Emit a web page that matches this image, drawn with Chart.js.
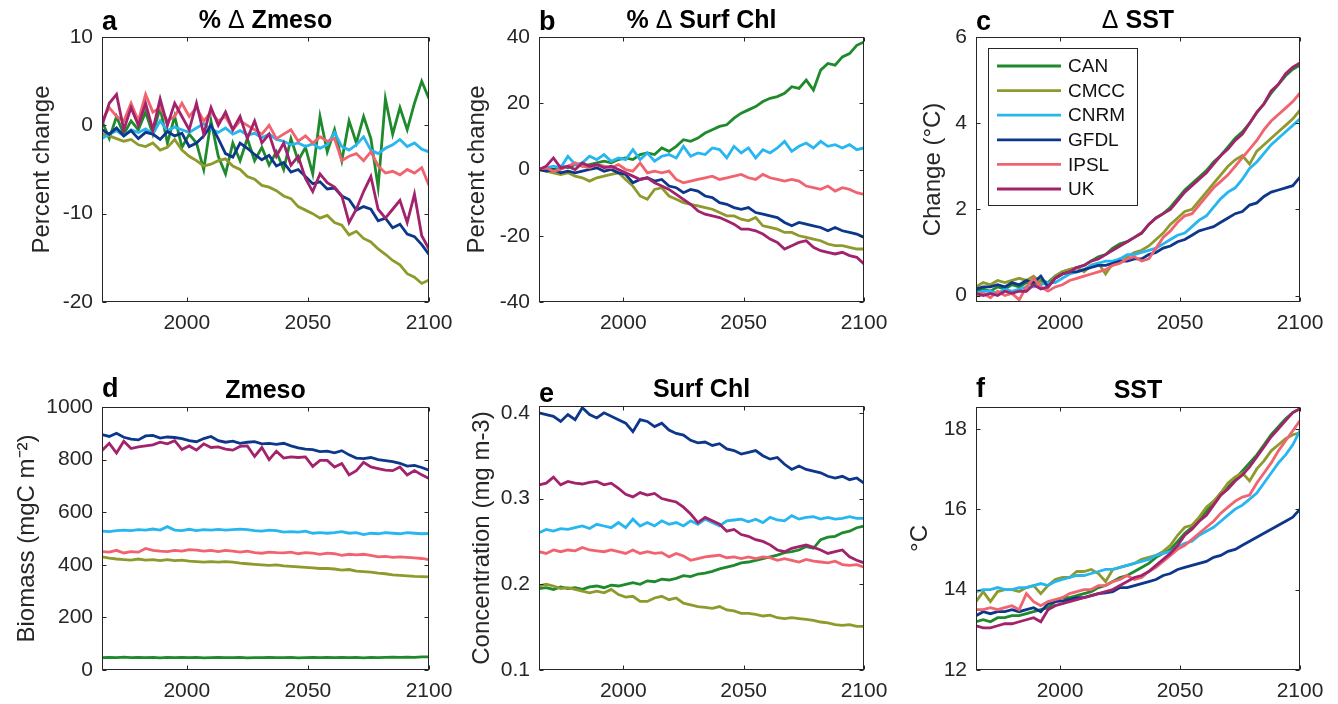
<!DOCTYPE html>
<html>
<head>
<meta charset="utf-8">
<script src="https://cdn.jsdelivr.net/npm/chart.js@4.4.1/dist/chart.umd.min.js"></script>
<style>
  body { margin: 0; background: #fff; }
  #lienzo { position: relative; width: 1338px; height: 704px; background: #fff; overflow: hidden; }
  #lienzo canvas { position: absolute; }
</style>
</head>
<body>
<div id="lienzo"></div>
<script>
//Años (cada 3 años) y modelos
const years = [1965, 1968, 1971, 1974, 1977, 1980, 1983, 1986, 1989, 1992, 1995, 1998, 2001, 2004, 2007, 2010, 2013, 2016, 2019, 2022, 2025, 2028, 2031, 2034, 2037, 2040, 2043, 2046, 2049, 2052, 2055, 2058, 2061, 2064, 2067, 2070, 2073, 2076, 2079, 2082, 2085, 2088, 2091, 2094, 2097, 2100];
const models = ['CAN', 'CMCC', 'CNRM', 'GFDL', 'IPSL', 'UK'];
const xTicks = [2000, 2050, 2100];

//a: % cambio Zmeso (orden: CAN, CMCC, CNRM, GFDL, IPSL, UK)
const pctZmeso = [
  [0.5, -1.5, 1, -1, 0.5, -0.5, 1.5, -1, 2, -2, 1, -2.5, -1, -2, -5, 0.5, -3.5, -5.5, -2, -4, -1.5, -4, -2.5, -4.5, -3, -5, -1.5, -4, -2.5, -5.5, 1, -3, -0.5, -4, 0.5, -2, 1, -1.5, -7, 3, -1, 2, -0.5, 2.5, 5, 3],
  [-1, -1.2, -1.5, -1.8, -1.6, -2.2, -2.4, -2.0, -2.8, -2.5, -1.6, -2.8, -3.5, -4.0, -4.6, -4.4, -4.0, -3.8, -4.6, -5.0, -5.8, -6.1, -6.8, -7.0, -7.4, -8.0, -8.3, -9.2, -9.6, -10.0, -10.5, -10.2, -11.0, -11.3, -12.4, -12.0, -12.8, -13.2, -14.0, -14.6, -15.3, -15.8, -16.8, -17.2, -17.9, -17.5],
  [-1.5, -1.0, -0.6, -1.2, -0.5, -0.8, -0.4, -1.0, 0.5, -0.6, -0.2, -0.5, -0.8, -0.3, 0.2, -0.4, -0.8, -0.3, -1.0, -0.6, -1.1, -0.9, -1.4, -1.0, -1.6, -1.8, -2.2, -2.0, -2.4, -2.1, -2.6, -2.2, -0.8, -2.4, -2.8, -2.2, -1.3, -2.8, -3.2, -2.6, -2.2, -1.6, -2.4, -2.0, -2.7, -3.0],
  [-0.5, -1.0, -0.3, -1.2, -0.6, -1.5, -0.8, -1.0, -1.6, -0.7, -1.2, -0.9, -2.4, -2.0, -1.2, 0.0, -1.5, -3.2, -3.6, -2.0, -2.6, -3.3, -3.9, -3.4, -4.6, -4.2, -5.3, -5.0, -5.8, -6.6, -6.4, -7.2, -7.1, -8.0, -8.4, -9.6, -9.2, -9.5, -10.8, -10.5, -11.6, -11.2, -12.3, -12.6, -13.5, -14.6],
  [0.5, 2.0, 1.0, 0.5, 2.5, 0.5, 3.5, 1.5, 2.0, 0.5, 1.0, 2.5, 1.0, 2.0, 0.5, 1.5, 0.5, 1.0, -0.5, 0.5, 0.0, -0.5, -1.0, 0.0, -1.5, -1.0, -0.5, -1.8, -1.2, -2.0, -1.3, -1.8, -1.5, -4.0, -3.5, -3.2, -4.0, -3.0, -4.6, -5.4, -5.2, -5.6, -5.0, -5.4, -4.8, -6.8],
  [0, 2.5, 3.5, -0.5, 2.0, 0.0, 2.5, -0.5, 3.0, 0.0, 2.5, 1.0, -0.5, 2.5, -1.0, 2.0, 0.0, 1.5, -0.5, 1.0, -1.5, 0.5, -2.0, -1.0, -3.5, -2.0, -4.5, -3.5, -6.0, -7.5, -5.5, -6.5, -7.0, -8.0, -11.0, -9.5, -7.5, -5.8, -9.5, -10.5, -9.5, -8.5, -11.0, -7.8, -12.5, -14.0]
];

//b: % cambio clorofila superficial
const pctChl = [
  [0, 0.5, 0, 1, 0.5, 1.5, 1, 1.5, 2, 2.5, 2, 3, 3.5, 3, 4.5, 5, 4.5, 6.5, 5.5, 7, 9, 8.5, 9.5, 11, 12, 13, 13.5, 15.5, 17, 18, 19, 20.5, 21.5, 22, 23, 25, 24.5, 27, 24, 30, 32, 31.5, 34, 35, 37.5, 38.5],
  [0, -0.5, -1, -1.5, -1, -2, -2.5, -3.5, -2.5, -2, -1.5, -1, -3, -5, -8, -9, -6, -5.5, -8, -9, -10, -10.5, -11, -11.5, -12, -13, -14, -14, -15, -15.5, -14.5, -17, -17.5, -18, -19, -19, -20, -20.5, -21, -21.5, -22.5, -23, -23, -23.5, -24, -24],
  [0, 0.5, 1, 0.5, 4, 1.5, 2, 4, 3, 4.5, 2.5, 3.5, 3, 6, 3, 5, 2.5, 4, 4.5, 3.5, 7, 4, 5, 4.5, 6.5, 6, 3.5, 7, 5, 6.5, 3.5, 6, 5, 6.5, 8.5, 5.5, 7, 8, 6.5, 8.5, 7, 7.5, 6.5, 7.5, 6, 6.5],
  [0, -0.5, 0, -1, -0.5, -1, -0.5, 0, 0.5, -0.5, 0, -1, -1.5, -4, -3, -2.5, -3.5, -3, -5, -5.5, -7, -6, -6.5, -8, -8.5, -10, -10.5, -11.5, -12, -11.5, -13, -13.5, -14, -14.5, -16, -17, -16, -16.5, -17, -17.5, -18.5, -17.5, -18.5, -19, -19.5, -20.5],
  [0, 0.5, -0.5, 0, 1, 2, 1, 0.5, 1.5, 1, 0.5, 1.5, 0, -0.5, 2, -1, -0.5, -1, -0.5, -3, -4, -3.5, -3, -2.5, -2, -3, -2.5, -2, -1.5, -2.5, -3, -1.5, -2.5, -3, -3.5, -3, -3.5, -5, -5.5, -6, -5, -6.5, -5.5, -6, -7, -7.5],
  [0, 1, 3.5, 0.5, 1, 0, 2, 1, 1.5, 0.5, 1, 0, -1, -2, -3, -2.5, -4, -5, -6, -7.5, -9, -10.5, -12.5, -13.5, -14, -14.5, -15.5, -16.5, -18, -18, -18.5, -19.5, -21, -22, -24, -23, -22, -21.5, -23.5, -24.5, -25, -25.5, -25, -26, -26.5, -28.5]
];

//c: cambio de SST (ºC)
const dSST = [
  [0.1, 0.15, 0.1, 0.2, 0.15, 0.25, 0.2, 0.3, 0.25, 0.35, 0.3, 0.45, 0.55, 0.6, 0.65, 0.7, 0.8, 0.9, 0.95, 1.1, 1.2, 1.25, 1.35, 1.45, 1.65, 1.8, 1.9, 2.05, 2.25, 2.45, 2.6, 2.75, 2.9, 3.1, 3.25, 3.45, 3.65, 3.8, 4.0, 4.25, 4.45, 4.7, 4.9, 5.1, 5.25, 5.35],
  [0.2, 0.3, 0.25, 0.35, 0.3, 0.35, 0.4, 0.35, 0.45, 0.3, 0.25, 0.45, 0.55, 0.6, 0.65, 0.55, 0.7, 0.75, 0.5, 0.75, 0.85, 0.9, 1.0, 1.05, 1.15, 1.3, 1.45, 1.65, 1.8, 1.95, 2.0, 2.2, 2.4, 2.6, 2.8, 3.0, 3.15, 3.25, 3.05, 3.35, 3.5, 3.65, 3.8, 3.95, 4.1, 4.3],
  [0.05, 0.1, 0.1, 0.05, 0.15, 0.1, 0.15, 0.2, 0.2, 0.25, 0.3, 0.3, 0.4, 0.5, 0.55, 0.6, 0.7, 0.75, 0.8, 0.8, 0.85, 0.95, 0.95, 1.0, 1.05, 1.1, 1.2, 1.3, 1.4, 1.45, 1.6, 1.75, 1.85, 2.05, 2.25, 2.4, 2.5, 2.7, 2.95, 3.1, 3.3, 3.5, 3.65, 3.8, 3.95, 4.1],
  [0.15, 0.2, 0.2, 0.25, 0.2, 0.3, 0.25, 0.35, 0.3, 0.45, 0.2, 0.4, 0.5, 0.55, 0.55, 0.6, 0.65, 0.7, 0.7, 0.75, 0.8, 0.8, 0.85, 0.85, 0.95, 1.0, 1.1, 1.15, 1.25, 1.3, 1.4, 1.5, 1.55, 1.6, 1.7, 1.8, 1.9, 1.95, 2.1, 2.15, 2.3, 2.4, 2.45, 2.5, 2.55, 2.75],
  [0.0, 0.05, -0.05, 0.1, 0.0, 0.05, -0.1, 0.2, 0.4, 0.2, 0.1, 0.2, 0.25, 0.35, 0.4, 0.45, 0.5, 0.55, 0.6, 0.7, 0.75, 0.85, 0.9, 0.8, 0.85, 1.1, 1.35, 1.5, 1.7, 1.85, 1.9, 2.1, 2.3, 2.5, 2.65, 2.8, 3.0, 3.2, 3.4, 3.6, 3.85, 4.05, 4.2, 4.35, 4.5, 4.7],
  [0.05, 0.0, 0.05, 0.0, 0.1, 0.05, 0.1, 0.1, 0.25, 0.15, 0.2, 0.4, 0.5, 0.55, 0.65, 0.7, 0.8, 0.85, 0.95, 1.05, 1.15, 1.25, 1.35, 1.45, 1.65, 1.8, 1.9, 2.0, 2.2, 2.4, 2.55, 2.7, 2.85, 3.05, 3.25, 3.4, 3.6, 3.75, 4.0, 4.25, 4.45, 4.75, 4.9, 5.15, 5.3, 5.4]
];

//d: biomasa Zmeso (mgC m-2)
const zmeso = [
  [47, 48, 47, 49, 47, 48, 47, 48, 46, 48, 47, 48, 47, 48, 46, 47, 48, 47, 47, 48, 46, 47, 47, 48, 47, 47, 48, 46, 47, 48, 47, 48, 47, 48, 47, 48, 46, 48, 47, 48, 49, 48, 49, 48, 50, 50],
  [430, 425, 422, 420, 418, 422, 418, 420, 416, 420, 416, 418, 414, 412, 410, 412, 410, 412, 410, 406, 404, 402, 400, 398, 400, 396, 394, 392, 390, 388, 386, 386, 384, 380, 382, 376, 374, 372, 368, 366, 362, 360, 358, 356, 355, 354],
  [528, 526, 530, 532, 530, 534, 532, 536, 532, 545, 532, 530, 535, 530, 534, 532, 535, 532, 534, 536, 534, 530, 528, 532, 530, 524, 526, 524, 528, 520, 522, 520, 522, 526, 520, 522, 515, 520, 518, 522, 520, 518, 522, 520, 518, 519],
  [895, 888, 900, 885, 878, 875, 890, 892, 882, 886, 884, 880, 872, 868, 880, 888, 872, 866, 870, 862, 866, 868, 860, 862, 858, 862, 852, 845, 840, 838, 830, 832, 826, 834, 818, 806, 804, 808, 800, 796, 792, 786, 775, 778, 770, 760],
  [450, 448, 455, 445, 450, 448, 462, 455, 452, 450, 455, 452, 458, 456, 452, 455, 450, 455, 452, 448, 452, 446, 444, 448, 446, 445, 448, 442, 446, 444, 440, 444, 442, 436, 440, 438, 440, 436, 430, 432, 428, 430, 428, 426, 424, 420],
  [835, 862, 825, 870, 842, 848, 852, 856, 866, 860, 872, 838, 852, 836, 860, 846, 848, 840, 836, 850, 852, 812, 846, 800, 832, 806, 810, 808, 810, 774, 797, 797, 772, 785, 742, 758, 790, 772, 766, 760, 758, 772, 742, 758, 742, 728]
];

//e: clorofila superficial (mg m-3)
const chl = [
  [0.195, 0.196, 0.194, 0.197, 0.195, 0.196, 0.194, 0.197, 0.198, 0.196, 0.199, 0.198, 0.2, 0.202, 0.2, 0.204, 0.203, 0.206, 0.205, 0.207, 0.21, 0.209, 0.212, 0.213, 0.215, 0.218, 0.22, 0.222, 0.225, 0.226, 0.228, 0.23, 0.232, 0.234, 0.237, 0.238, 0.24, 0.244, 0.242, 0.252, 0.255, 0.256, 0.26, 0.262, 0.266, 0.268],
  [0.198, 0.2, 0.198, 0.195, 0.196, 0.194, 0.192, 0.19, 0.192, 0.19, 0.194, 0.188, 0.185, 0.186, 0.18, 0.18, 0.184, 0.186, 0.182, 0.184, 0.178, 0.176, 0.174, 0.173, 0.172, 0.174, 0.17, 0.169, 0.166, 0.166, 0.165, 0.163, 0.164, 0.161, 0.16, 0.161, 0.16, 0.159, 0.158, 0.156, 0.155, 0.153, 0.152, 0.153, 0.151, 0.151],
  [0.26, 0.264, 0.262, 0.265, 0.264, 0.266, 0.268, 0.265, 0.27, 0.268, 0.266, 0.272, 0.266, 0.276, 0.268, 0.272, 0.268, 0.274, 0.27, 0.272, 0.268, 0.274, 0.27, 0.276, 0.272, 0.268, 0.274, 0.275, 0.276, 0.273, 0.276, 0.272, 0.278, 0.275, 0.274, 0.28, 0.276, 0.278, 0.279, 0.276, 0.278, 0.276, 0.277, 0.279, 0.277, 0.277],
  [0.4, 0.398, 0.396, 0.39, 0.398, 0.392, 0.406, 0.398, 0.394, 0.4, 0.396, 0.392, 0.388, 0.378, 0.392, 0.39, 0.384, 0.388, 0.38, 0.376, 0.374, 0.368, 0.365, 0.366, 0.362, 0.364, 0.358, 0.356, 0.352, 0.354, 0.356, 0.35, 0.346, 0.348, 0.34, 0.334, 0.338, 0.334, 0.332, 0.33, 0.326, 0.324, 0.326, 0.322, 0.324, 0.318],
  [0.238, 0.236, 0.24, 0.238, 0.24, 0.239, 0.243, 0.24, 0.239, 0.238, 0.24, 0.238, 0.236, 0.24, 0.236, 0.238, 0.236, 0.237, 0.232, 0.236, 0.233, 0.228, 0.23, 0.232, 0.233, 0.234, 0.231, 0.232, 0.23, 0.232, 0.23, 0.232, 0.231, 0.228, 0.23, 0.228, 0.226, 0.229, 0.227, 0.226, 0.225, 0.227, 0.223, 0.222, 0.223, 0.22],
  [0.316, 0.318, 0.325, 0.316, 0.32, 0.318, 0.317, 0.319, 0.32, 0.316, 0.318, 0.312, 0.305, 0.302, 0.307, 0.304, 0.306, 0.3, 0.298, 0.296, 0.29, 0.282, 0.272, 0.278, 0.274, 0.27, 0.262, 0.264, 0.258, 0.256, 0.252, 0.25, 0.246, 0.24, 0.238, 0.242, 0.244, 0.246, 0.243, 0.24, 0.236, 0.238, 0.24, 0.232, 0.228, 0.225]
];

//f: SST (ºC)
const sst = [
  [13.2, 13.25, 13.2, 13.3, 13.3, 13.35, 13.35, 13.4, 13.45, 13.5, 13.55, 13.7, 13.8, 13.8, 13.85, 13.9, 13.95, 14.05, 14.1, 14.2, 14.3, 14.35, 14.45, 14.55, 14.65, 14.8, 14.9, 15.0, 15.2, 15.4, 15.55, 15.75, 15.95, 16.15, 16.4, 16.55, 16.75, 16.95, 17.15, 17.35, 17.6, 17.85, 18.05, 18.25, 18.4, 18.5],
  [13.7, 13.95, 13.7, 13.95, 14.0, 14.0, 13.95, 14.05, 14.1, 13.9, 14.1, 14.25, 14.3, 14.3, 14.45, 14.45, 14.5, 14.4, 14.2, 14.5, 14.55, 14.6, 14.65, 14.75, 14.8, 14.85, 14.95, 15.1, 15.35, 15.55, 15.6, 15.8, 16.05, 16.2, 16.4, 16.65, 16.8, 16.9, 16.7, 17.0, 17.2, 17.45, 17.6, 17.75, 17.85, 17.9],
  [13.95, 14.0, 14.0, 14.05, 14.0, 14.0, 14.05, 14.05, 14.1, 14.15, 14.1, 14.2, 14.25, 14.3, 14.35, 14.35, 14.4, 14.45, 14.5, 14.5, 14.55, 14.6, 14.65, 14.7, 14.75, 14.85, 14.9, 14.95, 15.05, 15.15, 15.2, 15.35, 15.45, 15.55, 15.7, 15.85, 16.0, 16.1, 16.25, 16.4, 16.65, 16.9, 17.15, 17.35, 17.6, 17.95],
  [13.35, 13.45, 13.4, 13.45, 13.45, 13.5, 13.45, 13.5, 13.55, 13.45, 13.65, 13.7, 13.72, 13.75, 13.8, 13.8, 13.85, 13.9, 13.92, 13.95, 14.05, 14.05, 14.1, 14.15, 14.2, 14.25, 14.35, 14.4, 14.5, 14.55, 14.6, 14.65, 14.7, 14.8, 14.85, 14.95, 15.0, 15.1, 15.2, 15.3, 15.4, 15.5, 15.6, 15.7, 15.8, 16.0],
  [13.5, 13.5, 13.55, 13.5, 13.55, 13.6, 13.5, 13.9, 13.7, 13.6, 13.7, 13.75, 13.8, 13.9, 13.95, 14.0, 14.0, 14.1, 14.1, 14.2, 14.25, 14.35, 14.25, 14.3, 14.45, 14.55, 14.7, 14.85, 15.0, 15.1, 15.25, 15.4, 15.55, 15.7, 15.9, 16.05, 16.2, 16.3, 16.35, 16.65, 16.9, 17.15, 17.45, 17.7, 17.95, 18.2],
  [13.1, 13.05, 13.05, 13.1, 13.15, 13.15, 13.2, 13.25, 13.3, 13.2, 13.5, 13.6, 13.65, 13.7, 13.75, 13.8, 13.85, 13.9, 13.95, 14.0, 14.1, 14.2, 14.3, 14.35, 14.45, 14.6, 14.75, 14.9, 15.1, 15.35, 15.5, 15.7, 15.85, 16.1, 16.35, 16.5, 16.7, 16.85, 17.05, 17.3, 17.55, 17.8, 18.0, 18.2, 18.4, 18.5]
];

//Marcas y rangos del eje Y de cada panel
const ticksA = [-20, -10, 0, 10], rangoA = [-20, 10];
const ticksB = [-40, -20, 0, 20, 40], rangoB = [-40, 40];
const ticksC = [0, 2, 4, 6], rangoC = [-0.15, 6];
const ticksD = [0, 200, 400, 600, 800, 1000], rangoD = [0, 1000];
const ticksE = [0.1, 0.2, 0.3, 0.4], rangoE = [0.1, 0.408];
const ticksF = [12, 14, 16, 18], rangoF = [12, 18.54];

//Estilos
const modelColors = ['#1e8a2c', '#8f9a2c', '#27b6ef', '#0d378a', '#f1636f', '#a2226c'];
const ejes = '#262626';
const fuente = '"Liberation Sans", Arial, Helvetica, sans-serif';
Chart.defaults.font.family = fuente;

//Cada panel: datos + caja del área de trazado (px de la página)
const paneles = [
  { letra: 'a', titulo: '% Δ Zmeso', ejeY: 'Percent change', datos: pctZmeso, ticksY: ticksA, rango: rangoA, L: 102, T: 37, R: 429, B: 302, offY: 60, letraDy: 7 },
  { letra: 'b', titulo: '% Δ Surf Chl', ejeY: 'Percent change', datos: pctChl, ticksY: ticksB, rango: rangoB, L: 539, T: 37, R: 864, B: 302, offY: 62, letraDy: 7 },
  { letra: 'c', titulo: 'Δ SST', ejeY: 'Change (°C)', datos: dSST, ticksY: ticksC, rango: rangoC, L: 976, T: 37, R: 1300, B: 302, offY: 43, letraDy: 7, leyenda: true },
  { letra: 'd', titulo: 'Zmeso', ejeY: 'Biomass (mgC m⁻²)', datos: zmeso, ticksY: ticksD, rango: rangoD, L: 102, T: 407, R: 429, B: 670, offY: 75, letraDy: 10 },
  { letra: 'e', titulo: 'Surf Chl', ejeY: 'Concentration (mg m-3)', datos: chl, ticksY: ticksE, rango: rangoE, L: 539, T: 406, R: 864, B: 670, offY: 57, letraDy: 4 },
  { letra: 'f', titulo: 'SST', ejeY: '°C', datos: sst, ticksY: ticksF, rango: rangoF, L: 976, T: 407, R: 1300, B: 670, offY: 56, letraDy: 10 }
];

//Dibuja el marco con marcas hacia dentro, títulos y leyenda
function marcoPara(p) {
  return {
    id: 'marco',
    afterDraw(chart) {
      const { ctx, chartArea: a, scales: { x, y } } = chart;
      ctx.save();
      const l = Math.round(a.left) + 0.5, r = Math.round(a.right) - 0.5;
      const t = Math.round(a.top) + 0.5, b = Math.round(a.bottom) - 0.5;
      ctx.strokeStyle = ejes;
      ctx.lineWidth = 1;
      ctx.strokeRect(l, t, r - l, b - t);
      ctx.beginPath();
      xTicks.forEach(v => {
        const px = Math.round(x.getPixelForValue(v)) + 0.5;
        ctx.moveTo(px, b); ctx.lineTo(px, b - 4);
        ctx.moveTo(px, t); ctx.lineTo(px, t + 4);
      });
      p.ticksY.forEach(v => {
        const py = Math.round(y.getPixelForValue(v)) + 0.5;
        ctx.moveTo(l, py); ctx.lineTo(l + 4, py);
        ctx.moveTo(r, py); ctx.lineTo(r - 4, py);
      });
      ctx.stroke();

      //letra del panel
      ctx.fillStyle = '#000';
      ctx.textAlign = 'left';
      ctx.textBaseline = 'alphabetic';
      ctx.font = 'bold 27px ' + fuente;
      ctx.fillText(p.letra, a.left, a.top - p.letraDy);

      //título: la Δ va sin negrita
      const partes = p.titulo.split('Δ');
      const negrita = 'bold 25px ' + fuente, normal = '25px ' + fuente;
      let total = 0;
      partes.forEach((s, i) => {
        ctx.font = negrita; total += ctx.measureText(s).width;
        if (i < partes.length - 1) { ctx.font = normal; total += ctx.measureText('Δ').width; }
      });
      let tx = (a.left + a.right) / 2 - total / 2;
      partes.forEach((s, i) => {
        ctx.font = negrita; ctx.fillText(s, tx, a.top - 9); tx += ctx.measureText(s).width;
        if (i < partes.length - 1) { ctx.font = normal; ctx.fillText('Δ', tx, a.top - 9); tx += ctx.measureText('Δ').width; }
      });

      //título del eje Y
      ctx.save();
      ctx.translate(a.left - p.offY, (a.top + a.bottom) / 2);
      ctx.rotate(-Math.PI / 2);
      ctx.font = '24px ' + fuente;
      ctx.textAlign = 'center';
      ctx.textBaseline = 'middle';
      ctx.fillStyle = ejes;
      ctx.fillText(p.ejeY, 0, 0);
      ctx.restore();

      //leyenda dentro del panel c
      if (p.leyenda) {
        const bx = Math.round(a.left) + 12.5, by = Math.round(a.top) + 11.5;
        ctx.fillStyle = '#fff';
        ctx.fillRect(bx, by, 149, 157);
        ctx.strokeStyle = ejes;
        ctx.lineWidth = 1;
        ctx.strokeRect(bx, by, 149, 157);
        ctx.font = '19px ' + fuente;
        ctx.textBaseline = 'middle';
        models.forEach((m, i) => {
          const yy = a.top + 29 + i * 24.6;
          ctx.strokeStyle = modelColors[i];
          ctx.lineWidth = 2.8;
          ctx.beginPath();
          ctx.moveTo(a.left + 21, yy); ctx.lineTo(a.left + 85, yy);
          ctx.stroke();
          ctx.fillStyle = '#111';
          ctx.fillText(m, a.left + 92, yy + 1);
        });
      }
      ctx.restore();
    }
  };
}

//Crea un canvas por panel y su gráfica
function crearPanel(p) {
  const lienzo = document.getElementById('lienzo');
  const cv = document.createElement('canvas');
  cv.width = p.R - p.L + 136;
  cv.height = p.B - p.T + 77;
  cv.style.left = (p.L - 102) + 'px';
  cv.style.top = (p.T - 37) + 'px';
  lienzo.appendChild(cv);

  const datasets = p.datos.map((serie, i) => ({
    label: models[i],
    data: years.map((yr, k) => ({ x: yr, y: serie[k] })),
    borderColor: modelColors[i],
    borderWidth: 2.8,
    pointRadius: 0,
    fill: false,
    tension: 0,
    order: models.length - i
  }));

  new Chart(cv, {
    type: 'line',
    data: { datasets: datasets },
    options: {
      responsive: false,
      animation: false,
      layout: { padding: { left: 0, top: 37, right: 34, bottom: 0 } },
      plugins: { legend: { display: false }, tooltip: { enabled: false } },
      scales: {
        x: {
          type: 'linear', min: 1965, max: 2100,
          afterBuildTicks: s => { s.ticks = xTicks.map(v => ({ value: v })); },
          afterFit: s => { s.height = 40; },
          grid: { display: false, drawTicks: false },
          border: { display: false },
          ticks: { font: { size: 21 }, color: ejes, padding: 9, maxRotation: 0, autoSkip: false, callback: v => String(v) }
        },
        y: {
          type: 'linear', min: p.rango[0], max: p.rango[1],
          afterBuildTicks: s => { s.ticks = p.ticksY.map(v => ({ value: v })); },
          afterFit: s => { s.width = 102; },
          grid: { display: false, drawTicks: false },
          border: { display: false },
          ticks: { font: { size: 21 }, color: ejes, padding: 9, autoSkip: false, callback: v => String(v) }
        }
      }
    },
    plugins: [marcoPara(p)]
  });
}

paneles.forEach(crearPanel);
</script>
</body>
</html>
